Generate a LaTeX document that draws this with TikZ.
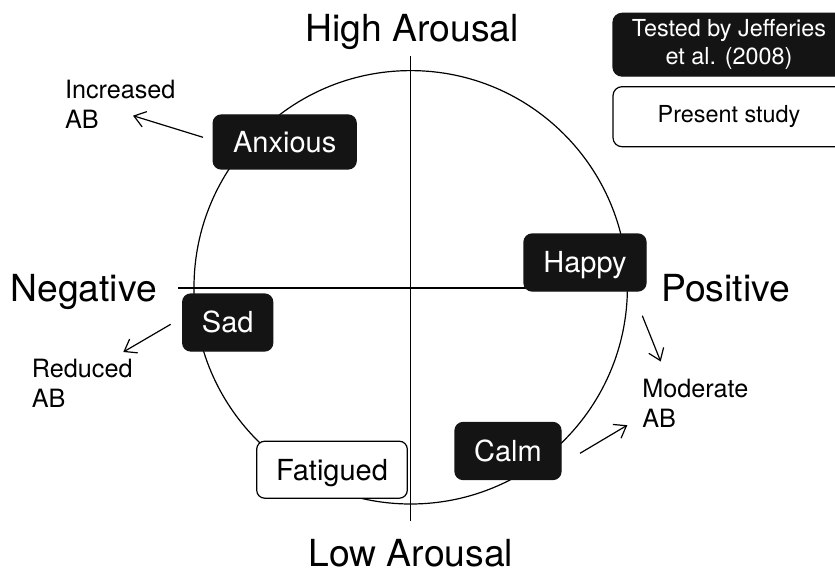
\documentclass[tikz,border=0pt]{standalone}
\usepackage{fontspec}
\setmainfont{TeX Gyre Heros}
\usetikzlibrary{arrows.meta}
\definecolor{boxblack}{HTML}{141414}
\begin{document}
\begin{tikzpicture}[x=1pt,y=-1pt,line width=1.2pt,
  emo/.style={rounded corners=8pt, fill=boxblack, draw=boxblack, text=white,
    font=\fontsize{29}{34}\selectfont, inner sep=0pt, text height=20.8pt, text depth=0pt},
  emoopen/.style={emo, fill=white, draw=black, text=black},
  big/.style={font=\fontsize{37.3}{44}\selectfont, inner sep=0pt, anchor=base},
  side/.style={font=\fontsize{25.2}{30}\selectfont, inner sep=0pt, align=left, anchor=north west},
  legendbox/.style={rounded corners=9pt, inner sep=0pt, align=center,
    font=\fontsize{23.4}{28.4}\selectfont, minimum width=232pt},
  effect/.style={line width=1.2pt, -{Straight Barb[length=11pt,width=16pt,line width=1.2pt]}}]
\useasboundingbox (0,0) rectangle (835,572);
% circle and axes
\coordinate (ctr) at (410.7,287.3);
\draw (ctr) circle[radius=216.7pt];
\coordinate (vtop) at (410.7,56);
\coordinate (vbot) at (410.7,521);
\coordinate (hl) at (178,288);
\coordinate (hr) at (630,288);
\draw (vtop) -- (vbot);
\draw (hl) -- (hr);
% axis labels
\node[big] (high) at (412,41.7) {High Arousal};
\node[big] (low) at (410.8,566.5) {Low Arousal};
\node[big, anchor=base west] (neg) at (10,301.7) {Negative};
\node[big, anchor=base west] (pos) at (660.6,301.7) {Positive};
% emotion boxes
\node[emo, minimum width=143pt, minimum height=54pt] (anx) at (284.7,142) {Anxious};
\node[emo, minimum width=90pt, minimum height=57pt] (sad) at (227.7,322.5) {Sad};
\node[emo, minimum width=122pt, minimum height=57pt] (hap) at (585,262.5) {Happy};
\node[emo, minimum width=106pt, minimum height=57pt] (calm) at (508,451) {Calm};
\node[emoopen, minimum width=150.6pt, minimum height=57pt] (fat) at (332,469.7) {Fatigued};
% legend
\node[legendbox, fill=boxblack, draw=boxblack, text=white, minimum height=62.7pt] (leg1) at (729,44.7) {Tested by Jefferies\\et al. (2008)};
\node[legendbox, fill=white, draw=black, text=black, minimum height=60pt] (leg2) at (729,116.7) {Present study};
% outcome labels
\node[side] (inc) at (64.4,79.5) {Increased\\AB};
\node[side] (red) at (31.3,359) {Reduced\\AB};
\node[side] (mod) at (641.8,378.5) {Moderate\\AB};
% arrows
\coordinate (a1s) at (203,137.3);
\coordinate (a1e) at (133,115.7);
\coordinate (a2s) at (170.7,324.3);
\coordinate (a2e) at (123.3,352);
\coordinate (a3s) at (642.3,315.7);
\coordinate (a3e) at (660.7,361.5);
\coordinate (a4s) at (580,453.3);
\coordinate (a4e) at (627.3,425.2);
\draw[effect] (a1s) -- (a1e);
\draw[effect] (a2s) -- (a2e);
\draw[effect] (a3s) -- (a3e);
\draw[effect] (a4s) -- (a4e);
\end{tikzpicture}
\end{document}
